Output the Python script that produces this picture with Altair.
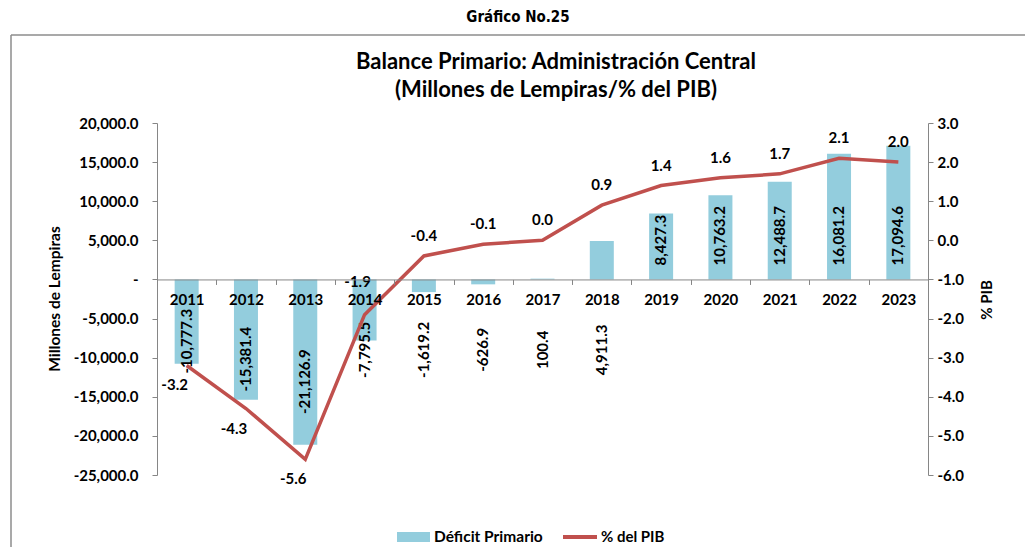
import altair as alt
import pandas as pd

# ---------------- data ----------------
years = [str(y) for y in range(2011, 2024)]
deficit = [-10777.3, -15381.4, -21126.9, -7795.5, -1619.2, -626.9, 100.4,
           4911.3, 8427.3, 10763.2, 12488.7, 16081.2, 17094.6]
pib = [-3.2, -4.3, -5.6, -1.9, -0.4, -0.1, 0.0, 0.9, 1.4, 1.6, 1.7, 2.1, 2.0]
left_ticks = [-25000, -20000, -15000, -10000, -5000, 0, 5000, 10000, 15000, 20000]
right_ticks = [-6, -5, -4, -3, -2, -1, 0, 1, 2, 3]

header = "Gráfico No.25"
title_lines = ["Balance Primario: Administración Central", "(Millones de Lempiras/% del PIB)"]
left_title = "Millones de Lempiras"
right_title = "% PIB"
legend_labels = ["Déficit Primario", "% del PIB"]

# ---------------- style ----------------
FONT = "Lato"
NARROW = "Liberation Sans Narrow, DejaVu Sans Condensed, Roboto, sans-serif"
BLUE = "#93CDDD"
RED = "#C0504D"
GRAY = "#868686"
W, H = 771, 352

df = pd.DataFrame({"year": years, "deficit": deficit, "pib": pib})
base = alt.Chart(df)

X = alt.X(
    "year:N", sort=years,
    scale=alt.Scale(paddingInner=0, paddingOuter=0),
    axis=alt.Axis(
        title=None, labelAngle=0, orient="bottom",
        offset=-(H * 25 / 45), tickBand="extent",
        domainColor=GRAY, tickColor=GRAY, tickSize=5, labelPadding=8,
        labelFont=FONT, labelFontSize=15, labelFontWeight="bold",
        labelColor="black", zindex=1,
    ),
)

LEFT_SCALE = alt.Scale(domain=[-25000, 20000], nice=False, zero=False)
LEFT_AXIS = alt.Axis(
    title=None, orient="left", values=left_ticks, grid=False,
    domainColor=GRAY, tickColor=GRAY, tickSize=5, labelPadding=14,
    labelFont=FONT, labelFontSize=15, labelFontWeight="bold", labelColor="black",
    labelExpr="datum.value == 0 ? '-' : replace(format(datum.value, ',.1f'), '\u2212', '-')",
)
RIGHT_SCALE = alt.Scale(domain=[-6, 3], nice=False, zero=False)
RIGHT_AXIS = alt.Axis(
    title=None, orient="right", values=right_ticks, grid=False,
    domainColor=GRAY, tickColor=GRAY, tickSize=5, labelPadding=4, labelAlign="left",
    labelFont=FONT, labelFontSize=15, labelFontWeight="bold", labelColor="black",
    labelExpr="replace(format(datum.value, '.1f'), '\u2212', '-')",
)

bars = base.mark_bar(size=24, color=BLUE).encode(
    x=X, y=alt.Y("deficit:Q", scale=LEFT_SCALE, axis=LEFT_AXIS)
)

txt = dict(font=FONT, fontSize=15, fontWeight="bold", color="black")

bar_lab_pos = base.transform_filter("datum.deficit >= 8000").transform_calculate(
    lab="replace(format(datum.deficit, ',.1f'), '\u2212', '-')", laby="0"
).mark_text(angle=270, align="left", baseline="middle", dx=14, **txt).encode(
    x=X, y=alt.Y("laby:Q", scale=LEFT_SCALE, axis=LEFT_AXIS), text="lab:N"
)
bar_lab_neg = base.transform_filter("datum.deficit < 8000").transform_calculate(
    lab="replace(format(datum.deficit, ',.1f'), '\u2212', '-')",
    laby="datum.deficit < -10000 ? datum.deficit / 2 - 2500 : -9000",
).mark_text(angle=270, align="center", baseline="middle", **txt).encode(
    x=X, y=alt.Y("laby:Q", scale=LEFT_SCALE, axis=LEFT_AXIS), text="lab:N"
)

YR = alt.Y("pib:Q", scale=RIGHT_SCALE, axis=RIGHT_AXIS)
fmt_pib = "replace(format(datum.pib, '.1f'), '\u2212', '-')"
line = base.mark_line(color=RED, strokeWidth=3.5).encode(x=X, y=YR)
line_lab_up = base.transform_filter("datum.pib >= -1").transform_calculate(
    lab=fmt_pib
).mark_text(dy=-20, **txt).encode(x=X, y=YR, text="lab:N")
line_lab_mid = base.transform_filter("datum.pib < -1 && datum.pib >= -3").transform_calculate(
    lab=fmt_pib
).mark_text(dy=-33, dx=-7, **txt).encode(x=X, y=YR, text="lab:N")
line_lab_dn = base.transform_filter("datum.pib < -3").transform_calculate(
    lab=fmt_pib
).mark_text(dy=20, dx=-12, **txt).encode(x=X, y=YR, text="lab:N")

left_group = alt.layer(bars, bar_lab_neg, bar_lab_pos)
right_group = alt.layer(line, line_lab_up, line_lab_mid, line_lab_dn)

# ---------------- decorations ----------------
one = alt.Chart(pd.DataFrame({"k": [0]}))
frame_top = one.mark_rule(color="#8C8C8C", strokeWidth=1.5).encode(
    x=alt.value(-146), x2=alt.value(W + 200), y=alt.value(-88))
frame_left = one.mark_rule(color="#8C8C8C", strokeWidth=1.5).encode(
    x=alt.value(-146), y=alt.value(-88), y2=alt.value(H + 200))

head = one.mark_text(font=NARROW, fontSize=15, fontWeight="bold",
                     color="black").encode(x=alt.value(361), y=alt.value(-106),
                                           text=alt.value(header))
t1 = one.mark_text(font=FONT, fontSize=22, fontWeight="bold", color="black").encode(
    x=alt.value(399), y=alt.value(-61), text=alt.value(title_lines[0]))
t2 = one.mark_text(font=FONT, fontSize=22, fontWeight="bold", color="black").encode(
    x=alt.value(399), y=alt.value(-33), text=alt.value(title_lines[1]))
lt = one.mark_text(font=FONT, fontSize=15.5, fontWeight="bold", color="black", angle=270).encode(
    x=alt.value(-102), y=alt.value(176), text=alt.value(left_title))
rt = one.mark_text(font=FONT, fontSize=15, fontWeight="bold", color="black", angle=270).encode(
    x=alt.value(830), y=alt.value(177), text=alt.value(right_title))

leg_rect = one.mark_rect(color=BLUE).encode(
    x=alt.value(240), x2=alt.value(273), y=alt.value(409), y2=alt.value(419))
leg_t1 = one.mark_text(font=FONT, fontSize=15.5, fontWeight="bold", color="black",
                       align="left", baseline="middle").encode(
    x=alt.value(277), y=alt.value(414), text=alt.value(legend_labels[0]))
leg_line = one.mark_rule(color=RED, strokeWidth=4).encode(
    x=alt.value(406), x2=alt.value(440), y=alt.value(414))
leg_t2 = one.mark_text(font=FONT, fontSize=15, fontWeight="bold", color="black",
                       align="left", baseline="middle").encode(
    x=alt.value(444), y=alt.value(414), text=alt.value(legend_labels[1]))

deco = alt.layer(frame_top, frame_left, head, t1, t2, lt, rt,
                 leg_rect, leg_t1, leg_line, leg_t2)

chart = alt.layer(deco, left_group, right_group).resolve_scale(
    y="independent"
).properties(
    width=W, height=H,
    autosize=alt.AutoSizeParams(type="none"),
    padding={"left": 149, "top": 115, "right": 97, "bottom": 72},
    background="white",
).configure_view(stroke=None)

chart.save("out.html", embed_options={"renderer": "svg", "actions": False})
